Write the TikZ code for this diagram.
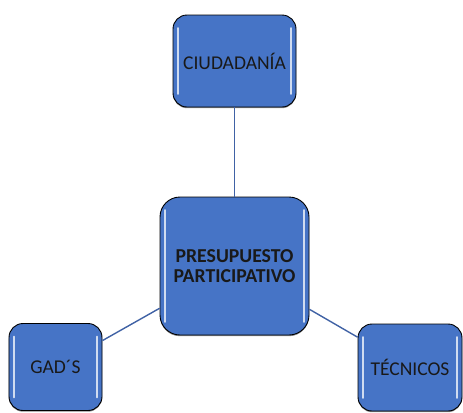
\documentclass[tikz,border=0pt]{standalone}
\usepackage{fontspec}
\setmainfont{Carlito}
\usetikzlibrary{shadows}
\definecolor{boxblue}{RGB}{70,116,198}
\definecolor{linkblue}{RGB}{64,98,165}
\begin{document}
\begin{tikzpicture}[x=1bp,y=-1bp,
  box/.style={draw=black, line width=0.9bp, fill=boxblue, inner sep=0pt,
    align=center, text=black!90, font=\fontsize{19.6}{20}\selectfont,
    drop shadow={shadow xshift=0bp, shadow yshift=-1.2bp, opacity=0.45, fill=black},
    path picture={
      \draw[white, opacity=0.75, line width=1.8bp, line cap=round]
        ([xshift=5bp,yshift=-13bp]path picture bounding box.north west) --
        ([xshift=5bp,yshift=13bp]path picture bounding box.south west);
      \draw[white, opacity=0.75, line width=1.8bp, line cap=round]
        ([xshift=-5bp,yshift=-13bp]path picture bounding box.north east) --
        ([xshift=-5bp,yshift=13bp]path picture bounding box.south east);
    }},
  link/.style={draw=linkblue, line width=1.4bp}]
\useasboundingbox (0,0) rectangle (463,412);
\node[box, rounded corners=14bp, minimum width=123bp, minimum height=92bp] (ciu) at (234.5,61) {CIUDADANÍA};
\node[box, rounded corners=20bp, minimum width=149bp, minimum height=138bp, font=\bfseries\fontsize{19.8}{20}\selectfont] (pre) at (234.5,266) {PRESUPUESTO\\PARTICIPATIVO};
\node[box, rounded corners=14bp, minimum width=93bp, minimum height=87bp] (gad) at (55.5,367) {GAD´S};
\node[box, rounded corners=14bp, minimum width=104bp, minimum height=87bp] (tec) at (410,367.5) {TÉCNICOS};
\draw[link] (ciu) -- (pre);
\draw[link] (pre) -- (gad);
\draw[link] (pre) -- (tec);
\end{tikzpicture}
\end{document}
